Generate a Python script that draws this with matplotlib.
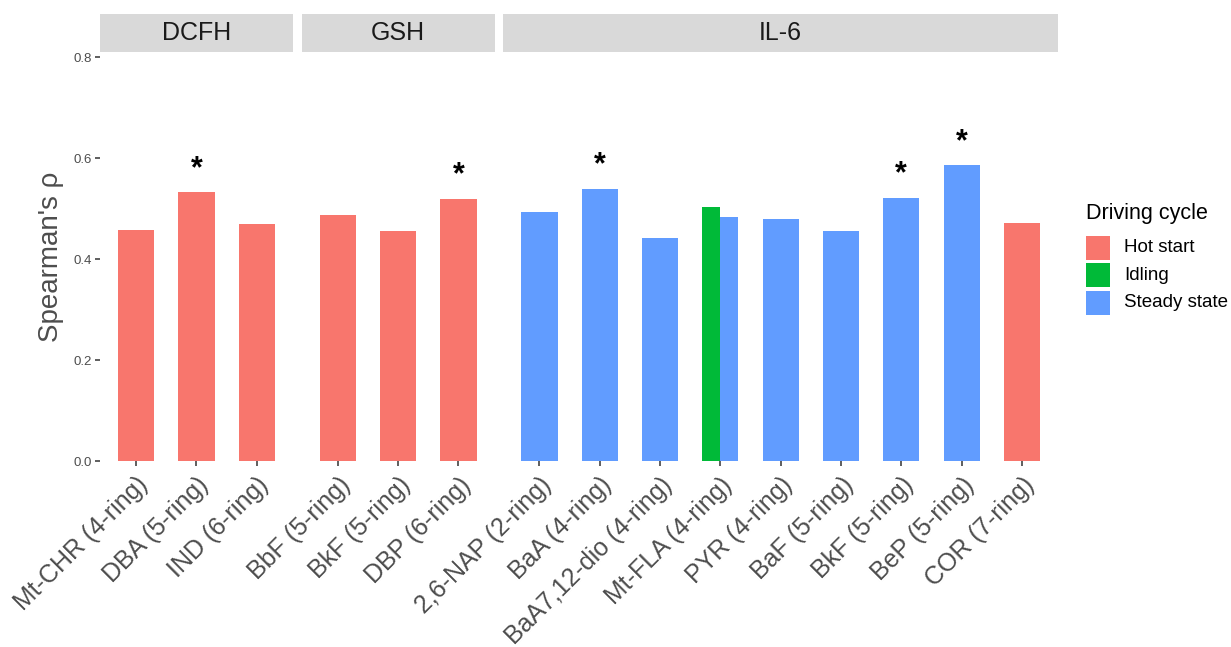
import matplotlib
matplotlib.use("Agg")
import matplotlib.pyplot as plt
from matplotlib.patches import Rectangle

plt.rcParams['font.family'] = ['Liberation Sans', 'DejaVu Sans']

# ---- data -------------------------------------------------------------
panels = ["DCFH", "GSH", "IL-6"]

bar_panel = ["DCFH", "DCFH", "DCFH",
             "GSH", "GSH", "GSH",
             "IL-6", "IL-6", "IL-6", "IL-6", "IL-6", "IL-6", "IL-6", "IL-6", "IL-6", "IL-6"]
bar_compound = ["Mt-CHR (4-ring)", "DBA (5-ring)", "IND (6-ring)",
                "BbF (5-ring)", "BkF (5-ring)", "DBP (6-ring)",
                "2,6-NAP (2-ring)", "BaA (4-ring)", "BaA7,12-dio (4-ring)",
                "Mt-FLA (4-ring)", "Mt-FLA (4-ring)", "PYR (4-ring)",
                "BaF (5-ring)", "BkF (5-ring)", "BeP (5-ring)", "COR (7-ring)"]
bar_cycle = ["Hot start", "Hot start", "Hot start",
             "Hot start", "Hot start", "Hot start",
             "Steady state", "Steady state", "Steady state",
             "Idling", "Steady state", "Steady state",
             "Steady state", "Steady state", "Steady state", "Hot start"]
bar_rho = [0.457, 0.532, 0.469,
           0.487, 0.455, 0.519,
           0.494, 0.539, 0.442,
           0.504, 0.484, 0.480,
           0.455, 0.521, 0.586, 0.472]
bar_signif = [False, True, False,
              False, False, True,
              False, True, False,
              False, False, False,
              False, True, True, False]

cycles = ["Hot start", "Idling", "Steady state"]
cycle_colors = ["#F8766D", "#00BA38", "#619CFF"]
y_ticks = [0.0, 0.2, 0.4, 0.6, 0.8]

# ---- layout helpers (pixel coordinates, origin top-left) --------------
W, H = 1231, 647
fig = plt.figure(figsize=(W / 100, H / 100), dpi=100)


def fx(px):
    return px / W


def fy(py):
    return 1 - py / H


panel_top, panel_bottom = 52, 461
strip_top = 14
unit_px = 60.3          # pixel width of one discrete x step
gap_px = 8.7
left_px = 100.0
bar_width = 0.6
color_of = dict(zip(cycles, cycle_colors))

x_cursor = left_px
axes = []
for pi, panel in enumerate(panels):
    idx = [i for i, p in enumerate(bar_panel) if p == panel]
    compounds = []
    for i in idx:
        if bar_compound[i] not in compounds:
            compounds.append(bar_compound[i])
    n = len(compounds)
    width_px = (n - 1 + 1.2) * unit_px
    ax = fig.add_axes([fx(x_cursor), fy(panel_bottom),
                       fx(width_px), (panel_bottom - panel_top) / H])
    axes.append(ax)

    # bars, dodged when one compound has several driving cycles
    for ci, comp in enumerate(compounds):
        rows = [i for i in idx if bar_compound[i] == comp]
        k = len(rows)
        sub_w = bar_width / k
        for j, i in enumerate(rows):
            xc = ci - bar_width / 2 + sub_w * (j + 0.5)
            ax.bar(xc, bar_rho[i], width=sub_w, color=color_of[bar_cycle[i]],
                   edgecolor='none', zorder=2)
        top = max(bar_rho[i] for i in rows)
        if any(bar_signif[i] for i in rows):
            ax.annotate("*", xy=(ci, top), xytext=(0, 11),
                        textcoords='offset points', ha='center', va='baseline',
                        fontsize=22, fontweight='bold', color='black')

    ax.set_xlim(-0.6, n - 1 + 0.6)
    ax.set_ylim(0, 0.81)
    ax.set_xticks(range(n))
    ax.set_xticklabels(compounds, rotation=45, ha='right', va='top',
                       rotation_mode='anchor', fontsize=18, color='#4D4D4D')
    ax.tick_params(axis='x', length=3.5, width=1.1, color='#333333', pad=5)
    for s in ax.spines.values():
        s.set_visible(False)
    ax.set_facecolor('white')

    if pi == 0:
        ax.set_yticks(y_ticks)
        ax.set_yticklabels([f"{v:.1f}" for v in y_ticks], fontsize=9.5,
                           color='#4D4D4D')
        ax.tick_params(axis='y', length=3.5, width=1.1, color='#333333', pad=2)
        ax.set_ylabel("Spearman's ρ", fontsize=20, color='#4D4D4D', labelpad=7)
    else:
        ax.set_yticks([])

    # facet strip
    fig.patches.append(Rectangle((fx(x_cursor), fy(panel_top)), fx(width_px),
                                 (panel_top - strip_top) / H,
                                 transform=fig.transFigure, facecolor='#D9D9D9',
                                 edgecolor='none'))
    fig.text(fx(x_cursor + width_px / 2), fy((panel_top + strip_top) / 2), panel,
             ha='center', va='center', fontsize=18, color='#1A1A1A')

    x_cursor += width_px + gap_px

# ---- legend -------------------------------------------------------------
fig.text(fx(1086), fy(214), "Driving cycle", ha='left', va='center',
         fontsize=15.5, color='black')
for k, (name, col) in enumerate(zip(cycles, cycle_colors)):
    yc = 247.5 + k * 27.5
    fig.patches.append(Rectangle((fx(1086), fy(yc + 12)), fx(24), 24 / H,
                                 transform=fig.transFigure, facecolor=col,
                                 edgecolor='none'))
    fig.text(fx(1124), fy(yc), name, ha='left', va='center',
             fontsize=13.5, color='black')

fig.savefig("out.png", dpi=100, facecolor='white')
